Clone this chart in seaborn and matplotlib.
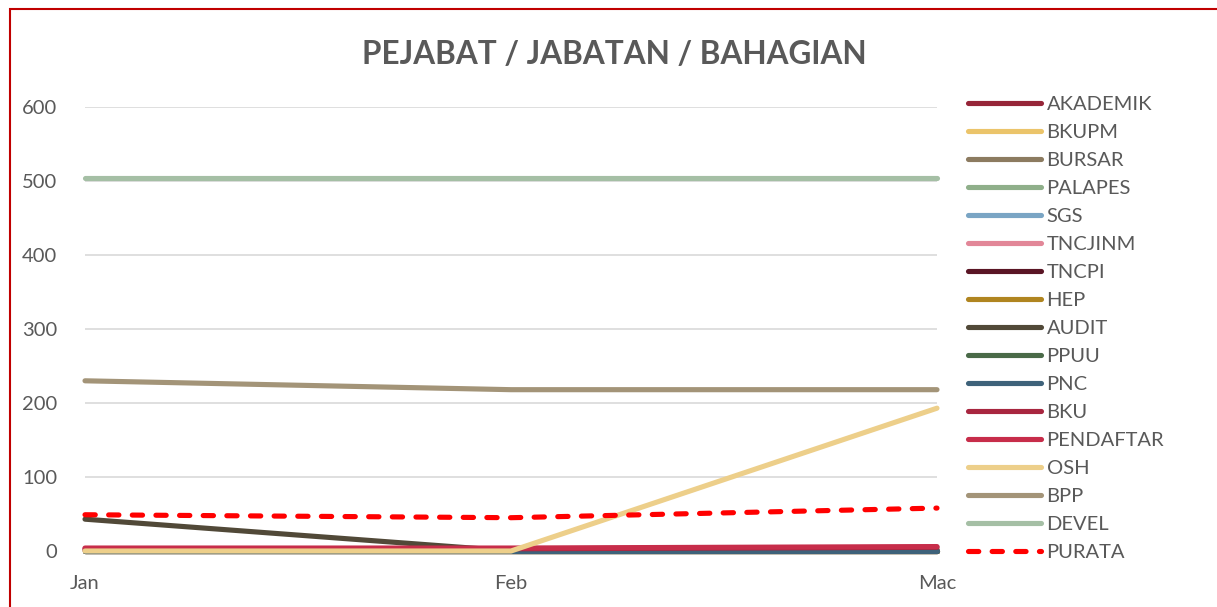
import pandas as pd
import matplotlib.pyplot as plt
import seaborn as sns
from matplotlib.patches import Rectangle

# Data
months = ['Jan', 'Feb', 'Mac']
names = ['AKADEMIK', 'BKUPM', 'BURSAR', 'PALAPES', 'SGS', 'TNCJINM', 'TNCPI', 'HEP',
         'AUDIT', 'PPUU', 'PNC', 'BKU', 'PENDAFTAR', 'OSH', 'BPP', 'DEVEL', 'PURATA']
akademik = [1, 1, 2]
bkupm = [0, 0, 0]
bursar = [0, 0, 0]
palapes = [0, 0, 0]
sgs = [0, 0, 0]
tncjinm = [0, 0, 0]
tncpi = [0, 0, 0]
hep = [0, 0, 0]
audit = [43, 0, 0]
ppuu = [0, 0, 0]
pnc = [0, 0, 0]
bku = [3, 3, 5]
pendaftar = [4, 4, 6]
osh = [0, 0, 193]
bpp = [230, 218, 218]
devel = [504, 504, 504]
purata = [49, 45, 58]
values = [akademik, bkupm, bursar, palapes, sgs, tncjinm, tncpi, hep, audit, ppuu,
          pnc, bku, pendaftar, osh, bpp, devel, purata]
colors = ['#962538', '#EBC46A', '#8C7B60', '#8FAF8A', '#7AA5C4', '#E28798', '#5A1525',
          '#B08520', '#514938', '#4A6A48', '#3E627A', '#A8263F', '#C72D4A', '#EDCF8A',
          '#A39478', '#A5BFA5', '#FF0000']

sns.set_style('white')
plt.rcParams['font.family'] = ['Lato', 'DejaVu Sans']
grey = '#595959'

fig = plt.figure(figsize=(12.17, 6.07), dpi=100)
ax = fig.add_axes([85 / 1217, 1 - 551 / 607, (937 - 85) / 1217, (551 - 107) / 607])

for name, vals, col in zip(names, values, colors):
    df = pd.DataFrame({'Month': months, 'Value': vals})
    sns.lineplot(data=df, x='Month', y='Value', color=col, linewidth=3.7,
                 label=name, ax=ax, sort=False, legend=False)

lines = ax.get_lines()
for ln in lines:
    ln.set_solid_capstyle('round')
    ln.set_clip_on(False)
    ln.set_zorder(3)
lines[-1].set_linestyle((0, (2.0, 2.6)))
lines[-1].set_dash_capstyle('round')

ax.set_xlim(0, 2)
ax.set_ylim(0, 600)
ax.set_yticks(range(0, 601, 100))
ax.grid(axis='y', color='#D9D9D9', linewidth=1.2)
ax.set_axisbelow(True)
for s in ax.spines.values():
    s.set_visible(False)
ax.set_xlabel('')
ax.set_ylabel('')
ax.tick_params(axis='both', colors=grey, labelsize=14.5, length=0)
ax.tick_params(axis='x', pad=17)
ax.tick_params(axis='y', pad=20)

fig.legend(lines, names, loc='upper left', bbox_to_anchor=(968 / 1217, 1 - 96 / 607),
           frameon=False, fontsize=14.5, handlelength=3.6, handletextpad=0.3,
           labelspacing=0.54, borderpad=0, borderaxespad=0, labelcolor=grey)

fig.suptitle('PEJABAT / JABATAN / BAHAGIAN', x=0.505, y=1 - 54 / 607, va='center',
             fontsize=22.7, fontweight='bold', color=grey)

fig.patches.append(Rectangle((10 / 1217, -0.1), 1.2, 1 - 9 / 607 + 0.1,
                             transform=fig.transFigure, fill=False,
                             edgecolor='#C00000', linewidth=1.5))

fig.savefig('out.png', dpi=100, facecolor='white')
